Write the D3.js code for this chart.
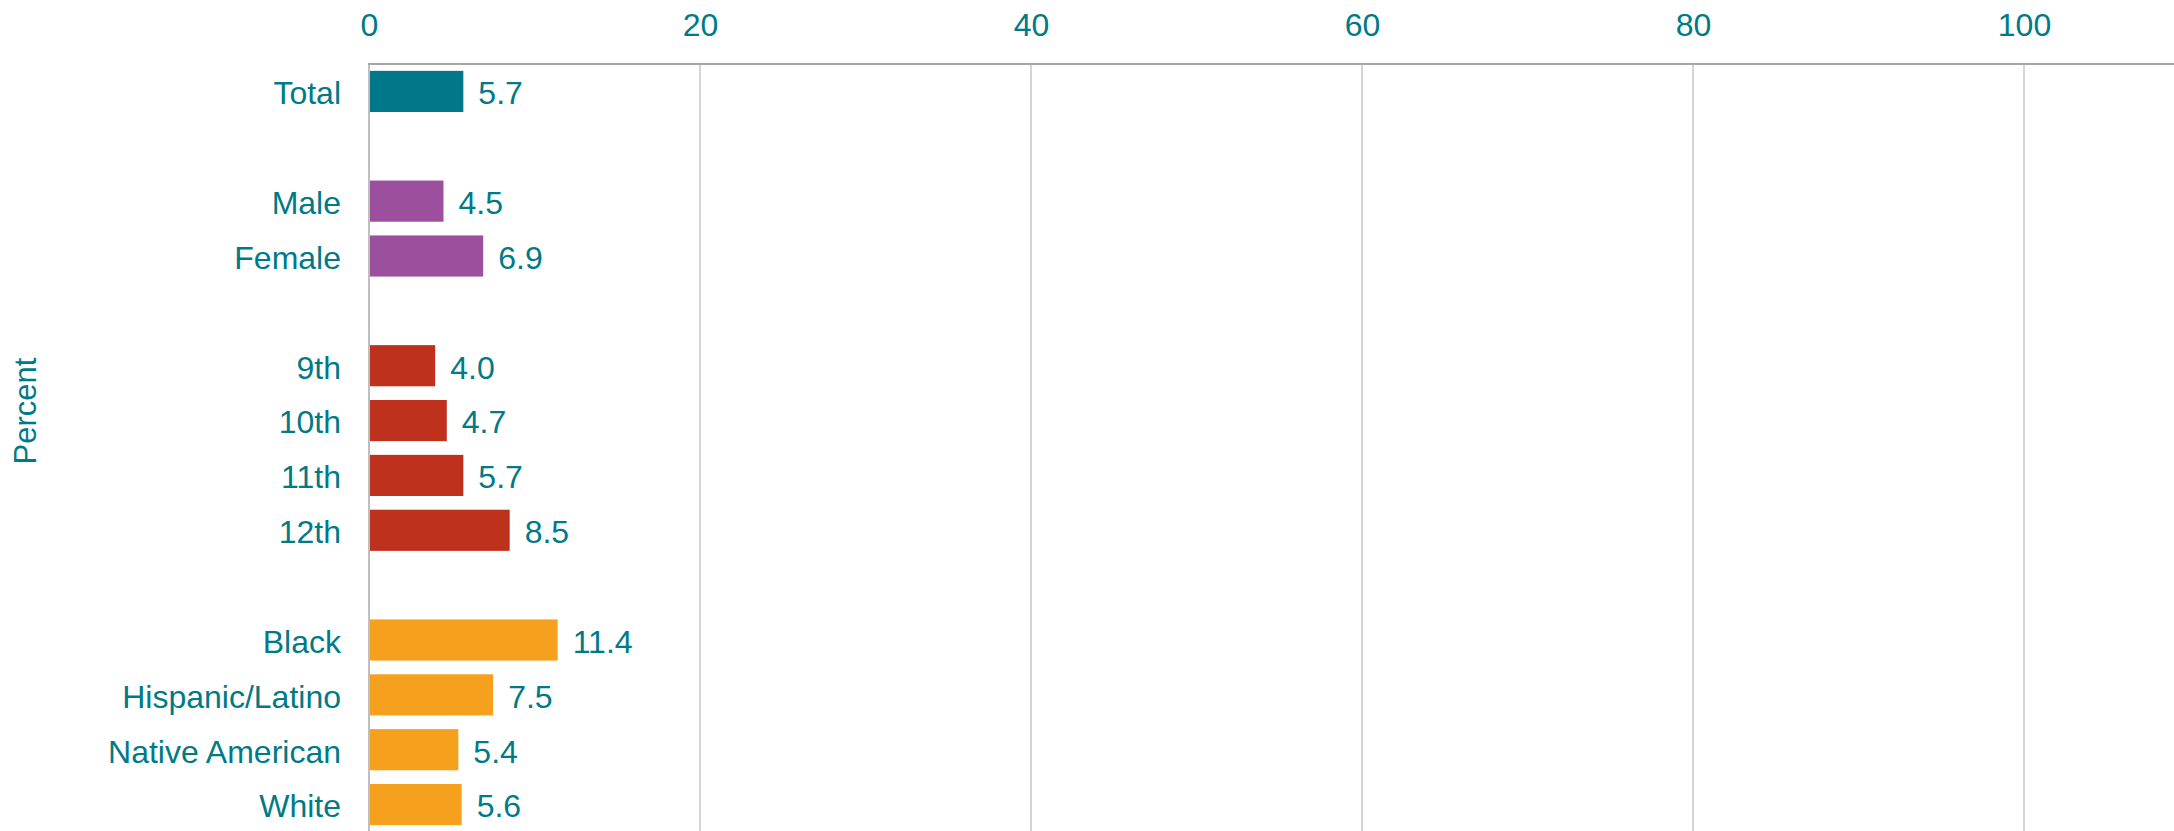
<!DOCTYPE html>
<html lang="en">
<head>
  <meta charset="UTF-8">
  <title>Percent by group</title>
  <script src="https://cdn.jsdelivr.net/npm/d3@7"></script>
  <style>
    html, body { margin: 0; padding: 0; background: #fff; }
    svg text { font-family: "Liberation Sans", Arial, sans-serif; fill: #007a87; }
  </style>
</head>
<body>
  <svg width="2174" height="831"></svg>
  <script>
    // data
    var categories = ["Total", "", "Male", "Female", "", "9th", "10th", "11th", "12th", "", "Black", "Hispanic/Latino", "Native American", "White"];
    var values     = [5.7, null, 4.5, 6.9, null, 4.0, 4.7, 5.7, 8.5, null, 11.4, 7.5, 5.4, 5.6];
    var groups     = [0, null, 1, 1, null, 2, 2, 2, 2, null, 3, 3, 3, 3];
    var groupColors = ["#00788a", "#9c4f9d", "#be311c", "#f5a11e"];
    var tickValues = [0, 20, 40, 60, 80, 100];

    var width = 2174, height = 831;
    var plotLeft = 369, plotRight = 2024, plotTop = 64;
    var svg = d3.select("svg");

    var rows = categories.map(function (c, i) {
      return { key: "r" + i, name: c, value: values[i], group: groups[i] };
    });

    var x = d3.scaleLinear().domain([0, 100]).range([plotLeft, plotRight]);
    var y = d3.scaleBand()
      .domain(rows.map(function (d) { return d.key; }))
      .range([plotTop, height + 1])
      .paddingInner(0.25)
      .paddingOuter(0.125);

    // vertical gridlines
    svg.append("g")
      .selectAll("line")
      .data(tickValues.filter(function (t) { return t > 0; }))
      .enter()
      .append("line")
      .attr("x1", function (d) { return x(d); })
      .attr("x2", function (d) { return x(d); })
      .attr("y1", plotTop)
      .attr("y2", height)
      .attr("stroke", "#d4d4d4")
      .attr("stroke-width", 2);

    // top axis (tick labels only, line drawn separately to the right edge)
    var axis = svg.append("g")
      .attr("transform", "translate(0," + plotTop + ")")
      .call(d3.axisTop(x).tickValues(tickValues).tickSize(0).tickPadding(0));
    axis.select(".domain").remove();
    axis.selectAll("text")
      .attr("y", -39)
      .attr("dy", "0.35em")
      .style("font-size", "32px")
      .attr("fill", "#007a87");

    // bars
    var bars = rows.filter(function (d) { return d.value !== null; });
    svg.append("g")
      .selectAll("rect")
      .data(bars)
      .enter()
      .append("rect")
      .attr("x", x(0))
      .attr("y", function (d) { return y(d.key); })
      .attr("width", function (d) { return x(d.value) - x(0); })
      .attr("height", y.bandwidth())
      .attr("fill", function (d) { return groupColors[d.group]; });

    // value labels
    svg.append("g")
      .selectAll("text")
      .data(bars)
      .enter()
      .append("text")
      .attr("x", function (d) { return x(d.value) + 15; })
      .attr("y", function (d) { return y(d.key) + y.bandwidth() / 2; })
      .attr("dy", "0.4em")
      .style("font-size", "32px")
      .text(function (d) { return d.value.toFixed(1); });

    // category labels
    svg.append("g")
      .selectAll("text")
      .data(bars)
      .enter()
      .append("text")
      .attr("x", plotLeft - 28)
      .attr("y", function (d) { return y(d.key) + y.bandwidth() / 2; })
      .attr("dy", "0.4em")
      .attr("text-anchor", "end")
      .style("font-size", "32px")
      .text(function (d) { return d.name; });

    // zero line and top axis line
    svg.append("line")
      .attr("x1", plotLeft).attr("x2", plotLeft)
      .attr("y1", plotTop - 1).attr("y2", height)
      .attr("stroke", "#bfbfbf").attr("stroke-width", 2);
    svg.append("line")
      .attr("x1", plotLeft - 1).attr("x2", width)
      .attr("y1", plotTop).attr("y2", plotTop)
      .attr("stroke", "#a6a6a6").attr("stroke-width", 2);

    // y axis title
    svg.append("text")
      .attr("transform", "translate(25,411) rotate(-90)")
      .attr("text-anchor", "middle")
      .attr("dy", "0.35em")
      .style("font-size", "31px")
      .text("Percent");
  </script>
</body>
</html>
